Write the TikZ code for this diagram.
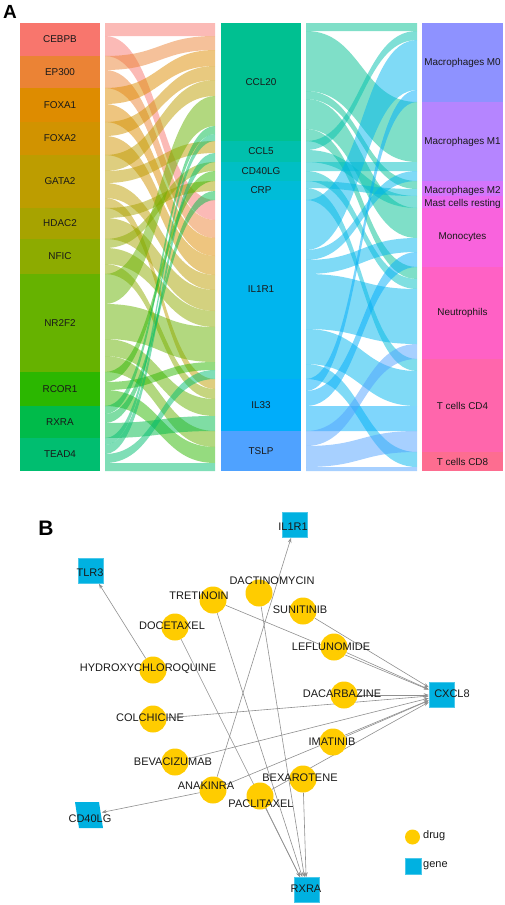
\documentclass[tikz,border=0pt]{standalone}
\usepackage{fontspec}
\setmainfont{Liberation Sans}
\usetikzlibrary{arrows.meta,backgrounds}

% sankey colours
\definecolor{cCEBPB}{HTML}{F8766D}
\definecolor{cEP300}{HTML}{EB8335}
\definecolor{cFOXA1}{HTML}{DE8C00}
\definecolor{cFOXA2}{HTML}{D19300}
\definecolor{cGATA2}{HTML}{BD9D00}
\definecolor{cHDAC2}{HTML}{A7A300}
\definecolor{cNFIC}{HTML}{8DAB00}
\definecolor{cNR2F2}{HTML}{66B200}
\definecolor{cRCOR1}{HTML}{2BB700}
\definecolor{cRXRA}{HTML}{00BB4A}
\definecolor{cTEAD4}{HTML}{00BE70}
\definecolor{cCCL20}{HTML}{00C091}
\definecolor{cCCL5}{HTML}{00C0AD}
\definecolor{cCD40LG}{HTML}{00BFC4}
\definecolor{cCRP}{HTML}{00BCD8}
\definecolor{cIL1R1}{HTML}{00B5EE}
\definecolor{cIL33}{HTML}{00ADFA}
\definecolor{cTSLP}{HTML}{4FA2FF}
\definecolor{cMzero}{HTML}{8E92FF}
\definecolor{cMone}{HTML}{B585FF}
\definecolor{cMtwo}{HTML}{D475FC}
\definecolor{cMast}{HTML}{EA6AF1}
\definecolor{cMono}{HTML}{F963DD}
\definecolor{cNeut}{HTML}{FF61C5}
\definecolor{cCDfour}{HTML}{FF66AC}
\definecolor{cCDeight}{HTML}{FD6D90}
% network colours
\definecolor{drugcol}{HTML}{FFCC00}
\definecolor{genecol}{HTML}{00B1E1}
\definecolor{linkgray}{HTML}{8F8F8F}

\begin{document}
\begin{tikzpicture}[x=1pt,y=-1pt,
  sklab/.style={font=\fontsize{9.9}{11}\selectfont, text=black!90, inner sep=0pt},
  drug/.style={circle, fill=drugcol, minimum size=27pt, inner sep=0pt},
  gene/.style={rectangle, fill=genecol, draw=genecol!70!white, line width=0.5pt, minimum size=25pt, inner sep=0pt},
  dlab/.style={font=\fontsize{11}{13}\selectfont, text=black!90, inner sep=0pt},
  link/.style={draw=linkgray, line width=0.6pt, -{Stealth[length=5pt,width=3.6pt]}},
  panel/.style={font=\bfseries, inner sep=0pt}]
\useasboundingbox (0,0) rectangle (505,905);

\node[panel, font=\fontsize{19}{19}\selectfont\bfseries] (pA) at (10,12) {A};
\node[panel, font=\fontsize{21}{21}\selectfont\bfseries] (pB) at (46,528) {B};

% flows TF -> gene
\foreach \c/\a/\b/\p/\q in {
  cCEBPB/23/36/23/36, cCEBPB/36/56/200/220,
  cEP300/56/70/36/50, cEP300/70/88/220/238,
  cFOXA1/88/104/50/66, cFOXA1/104/122/238/256,
  cFOXA2/122/136/66/80, cFOXA2/136/155/256/275,
  cGATA2/155/171/80/96, cGATA2/171/183/141/153, cGATA2/183/198/275/290, cGATA2/198/208/379/389,
  cHDAC2/208/218/181/191, cHDAC2/218/239/290/311,
  cNFIC/239/248/162/171, cNFIC/248/264/311/327, cNFIC/264/274/389/399,
  cNR2F2/274/304/96/126, cNR2F2/304/339/327/362, cNR2F2/339/356/399/416, cNR2F2/356/372/431/447,
  cRCOR1/372/382/171/181, cRCOR1/382/390/362/370, cRCOR1/390/406/447/463,
  cRXRA/406/414/126/134, cRXRA/414/423/191/200, cRXRA/423/438/416/431,
  cTEAD4/438/445/134/141, cTEAD4/445/454/153/162, cTEAD4/454/463/370/379, cTEAD4/463/471/463/471}
  \fill[\c, fill opacity=.5] (105,\a) .. controls (160,\a) and (160,\p) .. (215,\p)
    -- (215,\q) .. controls (160,\q) and (160,\b) .. (105,\b) -- cycle;

% flows gene -> cell
\foreach \c/\a/\b/\p/\q in {
  cCCL20/23/31/23/31, cCCL20/31/91/102/162, cCCL20/91/99/181/189, cCCL20/99/129/208/238, cCCL20/129/141/267/279,
  cCCL5/141/150/31/40, cCCL5/150/162/196/208,
  cCD40LG/162/171/162/171, cCD40LG/171/181/279/289,
  cCRP/181/188/189/196, cCRP/188/200/359/371,
  cIL1R1/200/250/40/90, cIL1R1/250/260/171/181, cIL1R1/260/274/238/252,
  cIL1R1/274/329/289/344, cIL1R1/329/364/371/406, cIL1R1/364/379/452/467,
  cIL33/379/391/90/102, cIL33/391/406/252/267, cIL33/406/431/406/431,
  cTSLP/431/446/344/359, cTSLP/446/467/431/452, cTSLP/467/471/467/471}
  \fill[\c, fill opacity=.5] (306,\a) .. controls (361.5,\a) and (361.5,\p) .. (417,\p)
    -- (417,\q) .. controls (361.5,\q) and (361.5,\b) .. (306,\b) -- cycle;

% columns
\foreach \nm/\col/\txt/\a/\b in {
  tf-cebpb/cCEBPB/CEBPB/23/56, tf-ep300/cEP300/EP300/56/88,
  tf-foxa1/cFOXA1/FOXA1/88/122, tf-foxa2/cFOXA2/FOXA2/122/155,
  tf-gata2/cGATA2/GATA2/155/208, tf-hdac2/cHDAC2/HDAC2/208/239,
  tf-nfic/cNFIC/NFIC/239/274, tf-nr2f2/cNR2F2/NR2F2/274/372,
  tf-rcor1/cRCOR1/RCOR1/372/406, tf-rxra/cRXRA/RXRA/406/438,
  tf-tead4/cTEAD4/TEAD4/438/471}{
  \fill[\col] (20,\a) rectangle (100,\b);
  \node[sklab] (\nm) at (60,{(\a+\b)/2}) {\txt};
}
\foreach \nm/\col/\txt/\a/\b in {
  gn-ccl20/cCCL20/CCL20/23/141, gn-ccl5/cCCL5/CCL5/141/162,
  gn-cd40lg/cCD40LG/CD40LG/162/181, gn-crp/cCRP/CRP/181/200,
  gn-il1r1/cIL1R1/IL1R1/200/379, gn-il33/cIL33/IL33/379/431,
  gn-tslp/cTSLP/TSLP/431/471}{
  \fill[\col] (221,\a) rectangle (301,\b);
  \node[sklab] (\nm) at (261,{(\a+\b)/2}) {\txt};
}
\foreach \nm/\col/\txt/\a/\b/\ly in {
  ct-m0/cMzero/Macrophages M0/23/102/62.5, ct-m1/cMone/Macrophages M1/102/181/141.5,
  ct-m2/cMtwo/Macrophages M2/181/196/191, ct-mast/cMast/Mast cells resting/196/208/204,
  ct-mono/cMono/Monocytes/208/267/237.5, ct-neut/cNeut/Neutrophils/267/359/313,
  ct-cd4/cCDfour/T cells CD4/359/452/405.5, ct-cd8/cCDeight/T cells CD8/452/471/461.5}{
  \fill[\col] (422,\a) rectangle (503,\b);
  \node[sklab] (\nm) at (462.5,\ly) {\txt};
}

% network: genes
\node[gene] (tlr3) at (91,571) {};
\node[gene] (il1r1) at (295,525) {};
\node[gene] (cxcl8) at (441.5,695) {};
\node[gene] (rxra) at (306.5,890) {};
\fill[genecol] (75,802) -- (99,802) -- (103,828) -- (79,828) -- cycle;
\node[minimum size=25pt, inner sep=0pt] (cd40lg) at (89,815) {};

% network: drugs
\foreach \nm/\x/\y in {tret/213/600, doce/175/627, hcq/153/670, dact/259/593,
  suni/303/611, lefl/334/647, daca/344/695, colc/153/719, imat/333/742,
  beva/175/762, anak/213/790, bexa/303/779, pacl/260/796}
  \node[drug] (\nm) at (\x,\y) {};

% network: labels
\foreach \nm/\x/\y/\txt in {tret/199/596/TRETINOIN, doce/172/626/DOCETAXEL,
  hcq/148/669/HYDROXYCHLOROQUINE, dact/272/581/DACTINOMYCIN,
  suni/300/610/SUNITINIB, lefl/331/647/LEFLUNOMIDE, daca/342/694/DACARBAZINE,
  colc/150/718/COLCHICINE, imat/332/742/IMATINIB, beva/173/762/BEVACIZUMAB,
  anak/206/786/ANAKINRA, bexa/300/778/BEXAROTENE, pacl/261/804/PACLITAXEL,
  tlr3/90/573/TLR3, il1r1/293/527/IL1R1, cxcl8/452/694/CXCL8,
  rxra/306/889/RXRA, cd40lg/90/819/CD40LG}
  \node[dlab] (\nm-l) at (\x,\y) {\txt};

% links, under the nodes
\begin{pgfonlayer}{background}
\foreach \src/\dst in {hcq/tlr3, anak/il1r1, anak/cd40lg, anak/cxcl8,
  tret/cxcl8, suni/cxcl8, lefl/cxcl8, daca/cxcl8, colc/cxcl8, beva/cxcl8,
  imat/cxcl8, pacl/cxcl8, tret/rxra, doce/rxra, dact/rxra, pacl/rxra, bexa/rxra}
  \draw[link] (\src) -- (\dst);
\end{pgfonlayer}

% legend
\node[drug, minimum size=15pt] (lg-drug) at (412.5,837) {};
\node[dlab, anchor=west] (lg-drug-l) at (423,836) {drug};
\node[gene, minimum size=16pt] (lg-gene) at (413,866) {};
\node[dlab, anchor=west] (lg-gene-l) at (423,866) {gene};
\end{tikzpicture}
\end{document}
